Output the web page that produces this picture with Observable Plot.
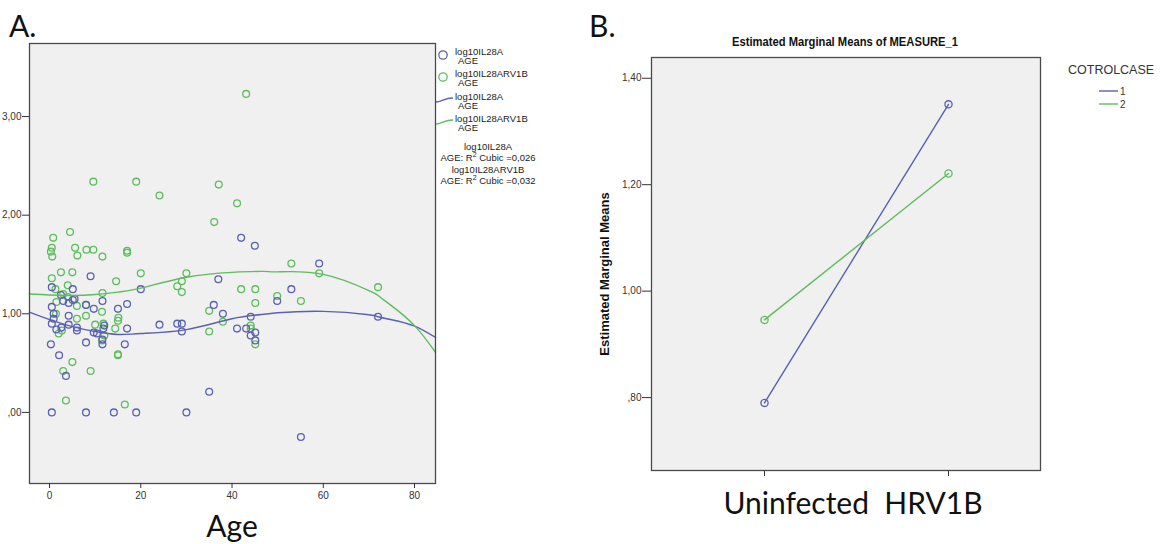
<!DOCTYPE html>
<html>
<head>
<meta charset="utf-8">
<script src="https://cdn.jsdelivr.net/npm/d3@7"></script>
<script src="https://cdn.jsdelivr.net/npm/@observablehq/plot@0.6"></script>
<style>
  html, body { margin: 0; padding: 0; background: #fff; }
  #root { position: relative; width: 1165px; height: 544px; overflow: hidden; font-family: "Liberation Sans", Arial, sans-serif; }
  .abs { position: absolute; white-space: nowrap; }
  .big { font-family: Lato, "Open Sans", sans-serif; font-size: 30px; color: #111; line-height: 1; }
  .leg { font-size: 9.5px; color: #222; line-height: 1; }
</style>
</head>
<body>
<div id="root"></div>
<script>
// ---------- Panel A data: scatter (age, log10 value) ----------
const blueAge = [59.1,53,37,42,45,20,49.9,36,38,44.1,72,41.1,43.1,44.1,45.1,45.1,24.1,28,29,29,35,55.1,0.5,8,14.1,19,30,3.6,2.1,0.3,8,11.6,16.5,9,17,15,11.6,17,0.5,5.1,0.5,4.2,9.7,0.9,0.9,0.5,4.2,6,9.7,10.4,11.8,2.6,4.2,3,5.5,1.5,11.6,6,12,2.5,8,5.1];
const blueLog = [1.51,1.25,1.35,1.77,1.69,1.25,1.13,1.09,1.00,0.97,0.97,0.85,0.85,0.78,0.81,0.73,0.89,0.90,0.90,0.82,0.21,-0.25,0,0,0,0,0,0.37,0.58,0.69,0.71,0.69,0.69,1.38,1.10,1.05,1.13,0.85,1.27,1.25,1.07,1.11,1.05,1.00,0.95,0.90,0.89,0.83,0.81,0.80,0.85,0.86,0.98,1.13,1.15,0.84,0.74,0.86,0.88,1.19,1.09,1.14];
const greenAge = [43.1,9.6,19,24.1,37.1,41.1,36.1,4.5,0.8,0.5,0.3,0.6,5.6,6.1,8.1,9.6,11.6,17,17,53,59.1,0.5,2.5,5,20,30,14.6,29,28,29,42,45.1,72,49.9,55.1,45.1,11.6,35,38,35,44.1,44.1,45.1,5,3,9,3.6,16.5,15,15,4,1.3,1.4,6,8,11.5,15.1,2,2.7,10,11.8,14.4,11.5,6,8,3,4,1.5,15,12];
const greenLog = [3.23,2.34,2.34,2.20,2.31,2.12,1.93,1.83,1.77,1.67,1.63,1.58,1.67,1.59,1.65,1.65,1.58,1.64,1.62,1.51,1.41,1.36,1.42,1.42,1.41,1.41,1.33,1.33,1.28,1.22,1.25,1.25,1.27,1.18,1.13,1.11,1.21,1.03,0.92,0.82,0.88,0.85,0.69,0.51,0.42,0.42,0.12,0.08,0.58,0.59,1.29,1.25,1.00,0.95,0.98,1.02,0.96,0.80,0.83,0.89,0.90,0.85,0.73,1.08,1.09,1.20,1.17,1.12,0.93,0.78];

// Cubic fit curves at these ages
const fitAge   = [-4.4, 0, 5, 10, 15, 20, 30, 40, 47, 50, 60, 70, 72, 75, 80, 84.6];
const fitBlue  = [1.016, 0.94, 0.87, 0.82, 0.79, 0.80, 0.84, 0.95, 0.995, 1.01, 1.025, 0.99, 0.97, 0.94, 0.875, 0.76];
const fitGreen = [1.20, 1.19, 1.185, 1.195, 1.22, 1.26, 1.37, 1.42, 1.43, 1.425, 1.40, 1.235, 1.185, 1.08, 0.88, 0.61];

const ageTicks = [0, 20, 40, 60, 80];
const logTicks = [0, 1, 2, 3];

// ---------- Panel B data: estimated marginal means ----------
const measures = ["Uninfected", "HRV1B"];
const groups = ["1", "2"];
const meansGroup1 = [0.79, 1.351];
const meansGroup2 = [0.946, 1.221];
const meanTicks = [0.8, 1.0, 1.2, 1.4];

const BLUE = "#5a61b0";
const GREEN = "#5dbd5d";
const fmt = v => { const s = v.toFixed(2).replace(".", ","); return s.startsWith("0") ? s.slice(1) : s; };

const root = document.getElementById("root");
function place(el, left, top) { el.style.position = "absolute"; el.style.left = left + "px"; el.style.top = top + "px"; root.appendChild(el); return el; }
function label(text, cls, left, top, extra) {
  const d = document.createElement("div");
  d.className = "abs " + cls; d.innerHTML = text; d.style.left = left + "px"; d.style.top = top + "px";
  if (extra) Object.assign(d.style, extra);
  root.appendChild(d); return d;
}

// ---------- Panel A plot ----------
const blueData = blueAge.map((a, i) => ({age: a, v: blueLog[i]}));
const greenData = greenAge.map((a, i) => ({age: a, v: greenLog[i]}));
const fitData = fitAge.flatMap((a, i) => [
  {age: a, v: fitBlue[i], s: "log10IL28A"},
  {age: a, v: fitGreen[i], s: "log10IL28ARV1B"}
]);

const plotA = Plot.plot({
  width: 440, height: 544,
  marginLeft: 29, marginRight: 5, marginTop: 43, marginBottom: 61,
  x: {domain: [-4.39, 84.6]},
  y: {domain: [-0.721, 3.741]},
  style: {fontFamily: "'Liberation Sans', Arial, sans-serif", fontSize: "10px", color: "#333", background: "transparent", overflow: "visible"},
  marks: [
    Plot.frame({fill: "#f0f0f0"}),
    Plot.dot(greenData, {x: "age", y: "v", r: 3.4, stroke: GREEN, strokeWidth: 1.3}),
    Plot.dot(blueData, {x: "age", y: "v", r: 3.4, stroke: BLUE, strokeWidth: 1.3}),
    Plot.line(fitData, {x: "age", y: "v", z: "s", stroke: d => d.s === "log10IL28A" ? BLUE : GREEN, curve: "natural", strokeWidth: 1.4}),
    Plot.frame({stroke: "#4a4a4a", strokeWidth: 1.3}),
    Plot.axisX({ticks: ageTicks, tickSize: 5, tickPadding: 3, label: null}),
    Plot.axisY({ticks: logTicks, tickFormat: fmt, tickSize: 7, tickPadding: 1, label: null})
  ]
});
place(plotA, 0, 0);

// ---------- Panel B plot ----------
const meanData = [
  ...measures.map((m, i) => ({m, v: meansGroup1[i], g: groups[0]})),
  ...measures.map((m, i) => ({m, v: meansGroup2[i], g: groups[1]}))
];
const col = g => g === "1" ? BLUE : GREEN;
const plotB = Plot.plot({
  width: 575, height: 544,
  marginLeft: 61, marginRight: 125, marginTop: 57, marginBottom: 74,
  x: {type: "point", domain: measures, padding: 0, insetLeft: 112.7, insetRight: 91.7},
  y: {domain: [0.663, 1.439]},
  style: {fontFamily: "'Liberation Sans', Arial, sans-serif", fontSize: "10px", color: "#333", background: "transparent", overflow: "visible"},
  marks: [
    Plot.frame({fill: "#f0f0f0"}),
    Plot.line(meanData, {x: "m", y: "v", z: "g", stroke: d => col(d.g), strokeWidth: 1.4}),
    Plot.dot(meanData, {x: "m", y: "v", r: 3.6, stroke: d => col(d.g), strokeWidth: 1.3}),
    Plot.frame({stroke: "#4a4a4a", strokeWidth: 1.3}),
    Plot.axisX({tickSize: 6, tickFormat: () => "", label: null}),
    Plot.axisY({ticks: meanTicks, tickFormat: fmt, tickSize: 9, tickPadding: 1, label: null})
  ]
});
place(plotB, 590, 0);

// ---------- Text ----------
label("A.", "big", 9, 10);
label("B.", "big", 589, 10);
label("Age", "big", 232, 510, {transform: "translateX(-50%)"});
label("Uninfected&nbsp; HRV1B", "big", 853, 487, {transform: "translateX(-50%)"});

label("Estimated Marginal Means of MEASURE_1", "", 845, 34,
  {transform: "translateX(-50%) scaleX(0.83)", fontWeight: "bold", fontSize: "13.5px", color: "#111"});
label("Estimated Marginal Means", "", 604, 274,
  {transform: "translate(-50%,-50%) rotate(-90deg)", fontWeight: "bold", fontSize: "13px", color: "#111"});

// Panel B legend
label("COTROLCASE", "", 1068, 63, {fontSize: "12.5px", color: "#333"});
function legLine(x, y, w, color, curved) {
  const s = document.createElementNS("http://www.w3.org/2000/svg", "svg");
  s.setAttribute("width", w); s.setAttribute("height", 8);
  const p = document.createElementNS("http://www.w3.org/2000/svg", "path");
  p.setAttribute("d", curved ? `M0,6 C${w*0.3},6 ${w*0.5},2 ${w},2` : `M0,4 L${w},4`);
  p.setAttribute("stroke", color); p.setAttribute("fill", "none"); p.setAttribute("stroke-width", 1.4);
  s.appendChild(p); place(s, x, y);
}
function legCircle(x, y, color) {
  const s = document.createElementNS("http://www.w3.org/2000/svg", "svg");
  s.setAttribute("width", 12); s.setAttribute("height", 12);
  const c = document.createElementNS("http://www.w3.org/2000/svg", "circle");
  c.setAttribute("cx", 6); c.setAttribute("cy", 6); c.setAttribute("r", 4.2);
  c.setAttribute("stroke", color); c.setAttribute("fill", "none"); c.setAttribute("stroke-width", 1.3);
  s.appendChild(c); place(s, x, y);
}
legLine(1099, 87, 19, BLUE, false);
label("1", "", 1120, 86, {fontSize: "10px", color: "#333"});
legLine(1099, 100, 19, GREEN, false);
label("2", "", 1120, 99, {fontSize: "10px", color: "#333"});

// Panel A legend
legCircle(437, 49, BLUE);
label("log10IL28A", "leg", 455, 47);
label("AGE", "leg", 458, 56);
legCircle(437, 71, GREEN);
label("log10IL28ARV1B", "leg", 455, 69);
label("AGE", "leg", 458, 78);
legLine(436, 96, 17, BLUE, true);
label("log10IL28A", "leg", 455, 92);
label("AGE", "leg", 458, 101);
legLine(436, 118, 17, GREEN, true);
label("log10IL28ARV1B", "leg", 455, 114);
label("AGE", "leg", 458, 123);
label("log10IL28A", "leg", 488, 142, {transform: "translateX(-50%)"});
label("AGE: R<sup style='font-size:7px;line-height:0'>2</sup> Cubic =0,026", "leg", 488, 153, {transform: "translateX(-50%)"});
label("log10IL28ARV1B", "leg", 488, 165, {transform: "translateX(-50%)"});
label("AGE: R<sup style='font-size:7px;line-height:0'>2</sup> Cubic =0,032", "leg", 488, 176, {transform: "translateX(-50%)"});
</script>
</body>
</html>
